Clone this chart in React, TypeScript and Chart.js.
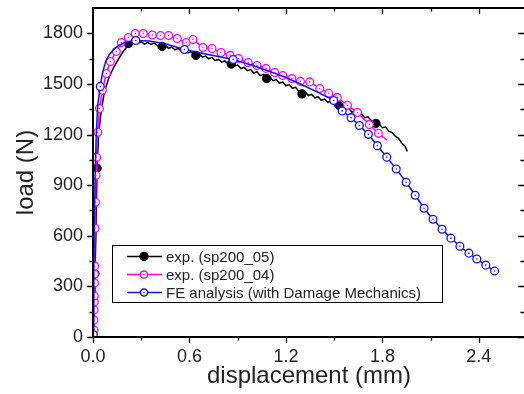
import { useEffect, useRef } from "react";
import { Chart, registerables } from "chart.js";

Chart.register(...registerables);

// exp. (sp200_05) – noisy curve
const sp05Disp = [0, 0.004, 0.008, 0.012, 0.018, 0.025, 0.035, 0.05, 0.07, 0.1, 0.13, 0.16, 0.19, 0.22, 0.24, 0.26, 0.28, 0.3, 0.32, 0.34, 0.36, 0.38, 0.4, 0.43, 0.45, 0.47, 0.49, 0.51, 0.53, 0.55, 0.57, 0.59, 0.61, 0.64, 0.66, 0.68, 0.7, 0.72, 0.74, 0.76, 0.78, 0.8, 0.82, 0.84, 0.86, 0.88, 0.9, 0.92, 0.94, 0.96, 0.98, 1.0, 1.02, 1.04, 1.06, 1.08, 1.1, 1.12, 1.14, 1.16, 1.18, 1.2, 1.22, 1.24, 1.26, 1.28, 1.3, 1.32, 1.34, 1.36, 1.38, 1.4, 1.42, 1.44, 1.46, 1.48, 1.5, 1.53, 1.55, 1.57, 1.59, 1.61, 1.63, 1.65, 1.67, 1.69, 1.71, 1.73, 1.76, 1.78, 1.8, 1.82, 1.84, 1.86, 1.88, 1.9, 1.92, 1.94, 1.955];
const sp05Load = [0, 120, 250, 375, 600, 1000, 1200, 1330, 1450, 1540, 1600, 1650, 1695, 1730, 1735, 1748, 1740, 1750, 1736, 1746, 1734, 1742, 1728, 1722, 1730, 1711, 1718, 1702, 1710, 1694, 1700, 1684, 1690, 1669, 1678, 1659, 1665, 1649, 1656, 1639, 1645, 1629, 1636, 1619, 1615, 1606, 1612, 1591, 1598, 1579, 1585, 1564, 1572, 1549, 1556, 1532, 1540, 1519, 1526, 1504, 1512, 1489, 1496, 1474, 1480, 1457, 1441, 1452, 1431, 1438, 1417, 1424, 1403, 1410, 1391, 1398, 1380, 1373, 1366, 1351, 1356, 1333, 1340, 1317, 1322, 1299, 1306, 1284, 1266, 1262, 1240, 1244, 1220, 1212, 1190, 1178, 1150, 1132, 1100];
const sp05MarkDisp = [0.012, 0.025, 0.22, 0.43, 0.64, 0.86, 1.08, 1.3, 1.53, 1.76];
const sp05MarkLoad = [375, 1000, 1740, 1722, 1669, 1618, 1532, 1441, 1373, 1266];

// exp. (sp200_04)
const sp04Disp = [0.006, 0.006, 0.007, 0.008, 0.008, 0.009, 0.009, 0.01, 0.013, 0.016, 0.019, 0.022, 0.03, 0.04, 0.058, 0.083, 0.108, 0.145, 0.176, 0.22, 0.263, 0.313, 0.369, 0.42, 0.47, 0.524, 0.58, 0.622, 0.684, 0.74, 0.796, 0.853, 0.905, 0.965, 1.02, 1.076, 1.13, 1.18, 1.237, 1.29, 1.348, 1.41, 1.466, 1.52, 1.583, 1.645, 1.719, 1.775, 1.83];
const sp04Load = [41, 100, 160, 207, 243, 320, 373, 420, 645, 799, 958, 1065, 1213, 1355, 1462, 1562, 1633, 1692, 1745, 1775, 1799, 1799, 1790, 1787, 1787, 1769, 1745, 1763, 1716, 1710, 1686, 1669, 1651, 1627, 1609, 1592, 1568, 1550, 1532, 1515, 1512, 1473, 1444, 1420, 1373, 1331, 1260, 1207, 1166];
const sp04Mark = [1, 1, 1, 1, 1, 1, 1, 1, 1, 1, 1, 1, 1, 1, 1, 1, 1, 1, 1, 1, 1, 1, 1, 1, 1, 1, 1, 1, 1, 1, 1, 1, 1, 1, 1, 1, 1, 1, 1, 1, 1, 1, 1, 1, 1, 1, 1, 1, 0];

// FE analysis (with Damage Mechanics)
const feDisp = [0.002, 0.005, 0.012, 0.02, 0.03, 0.045, 0.06, 0.08, 0.1, 0.13, 0.16, 0.2, 0.266, 0.35, 0.45, 0.569, 0.7, 0.872, 1.0, 1.1, 1.2, 1.3, 1.4, 1.497, 1.55, 1.605, 1.657, 1.713, 1.769, 1.827, 1.886, 1.948, 2.004, 2.059, 2.115, 2.171, 2.226, 2.282, 2.338, 2.387, 2.443, 2.498];
const feLoad = [15, 450, 900, 1200, 1380, 1485, 1570, 1635, 1672, 1705, 1728, 1745, 1757, 1755, 1738, 1704, 1678, 1645, 1608, 1574, 1538, 1495, 1450, 1402, 1340, 1300, 1254, 1201, 1134, 1066, 996, 917, 840, 763, 698, 639, 586, 538, 497, 462, 426, 391];
const feMark = [1, 0, 0, 0, 0, 1, 0, 0, 0, 0, 0, 0, 1, 0, 0, 1, 0, 1, 0, 0, 0, 0, 0, 1, 1, 1, 1, 1, 1, 1, 1, 1, 1, 1, 1, 1, 1, 1, 1, 1, 1, 1];

const xTickValues = [0, 0.3, 0.6, 0.9, 1.2, 1.5, 1.8, 2.1, 2.4];
const xTickLabels = ["0.0", "", "0.6", "", "1.2", "", "1.8", "", "2.4"];
const yTickValues = [0, 150, 300, 450, 600, 750, 900, 1050, 1200, 1350, 1500, 1650, 1800];
const yTickLabels = ["0", "", "300", "", "600", "", "900", "", "1200", "", "1500", "", "1800"];

const seriesLabels = ["exp. (sp200_05)", "exp. (sp200_04)", "FE analysis (with Damage Mechanics)"];
const BLACK = "#000000";
const PINK = "#ff00ff";
const BLUE = "#1010ff";
const FONT = "'Liberation Sans', Arial, Helvetica, sans-serif";
const TEXT = "#222222";

const pts = (xs: number[], ys: number[]) => xs.map((x, i) => ({ x, y: ys[i] }));

const framePlugin = {
  id: "frame",
  afterDraw(chart: any) {
    const { ctx, chartArea } = chart;
    const { left, right, top, bottom } = chartArea;
    const xs = chart.scales.x;
    const ys = chart.scales.y;
    ctx.save();
    ctx.strokeStyle = "#000";
    ctx.lineWidth = 2;
    ctx.strokeRect(left, top, right - left, bottom - top);
    ctx.lineWidth = 1.3;
    ctx.beginPath();
    xs.ticks.forEach((t: any, i: number) => {
      const px = Math.round(xs.getPixelForValue(t.value)) + 0.5;
      const len = xTickLabels[i] ? 6 : 3.5;
      ctx.moveTo(px, bottom);
      ctx.lineTo(px, bottom + len);
      ctx.moveTo(px, top);
      ctx.lineTo(px, top + len);
    });
    ys.ticks.forEach((t: any, i: number) => {
      const py = Math.round(ys.getPixelForValue(t.value)) + 0.5;
      const len = yTickLabels[i] ? 6 : 3.5;
      ctx.moveTo(left - len, py);
      ctx.lineTo(left, py);
      ctx.moveTo(right - len - 1, py);
      ctx.lineTo(right, py);
    });
    ctx.stroke();
    ctx.restore();
  },
};

const centerDotPlugin = {
  id: "centerDot",
  afterDatasetsDraw(chart: any) {
    const { ctx } = chart;
    chart.data.datasets.forEach((ds: any, di: number) => {
      if (!ds.centerDot) return;
      const meta = chart.getDatasetMeta(di);
      ctx.save();
      ctx.fillStyle = ds.borderColor;
      meta.data.forEach((el: any, i: number) => {
        const r = Array.isArray(ds.pointRadius) ? ds.pointRadius[i] : ds.pointRadius;
        if (!r) return;
        ctx.beginPath();
        ctx.arc(el.x, el.y, 0.8, 0, Math.PI * 2);
        ctx.fill();
      });
      ctx.restore();
    });
  },
};

const legendPlugin = {
  id: "customLegend",
  afterDraw(chart: any) {
    const { ctx } = chart;
    const bx = 112, by = 245, bw = 330, bh = 57;
    ctx.save();
    ctx.fillStyle = "#fff";
    ctx.fillRect(bx, by, bw, bh);
    ctx.strokeStyle = "#000";
    ctx.lineWidth = 1;
    ctx.strokeRect(bx + 0.5, by + 0.5, bw, bh);
    const rows = [
      { color: BLACK, filled: true },
      { color: PINK, filled: false },
      { color: BLUE, filled: false },
    ];
    ctx.font = `15px ${FONT}`;
    ctx.textBaseline = "middle";
    rows.forEach((r, i) => {
      const y = 256.5 + i * 18;
      ctx.strokeStyle = r.color;
      ctx.lineWidth = 1.5;
      ctx.beginPath();
      ctx.moveTo(127, y);
      ctx.lineTo(162, y);
      ctx.stroke();
      ctx.beginPath();
      ctx.arc(144, y, r.filled ? 4 : 3.6, 0, Math.PI * 2);
      ctx.fillStyle = r.filled ? r.color : "#fff";
      ctx.fill();
      ctx.stroke();
      if (!r.filled) {
        ctx.beginPath();
        ctx.fillStyle = r.color;
        ctx.arc(144, y, 0.8, 0, Math.PI * 2);
        ctx.fill();
      }
      ctx.fillStyle = TEXT;
      ctx.fillText(seriesLabels[i], 166, y + 1);
    });
    ctx.restore();
  },
};

export default function App() {
  const ref = useRef<HTMLCanvasElement | null>(null);
  useEffect(() => {
    document.body.style.margin = "0";
    const canvas = ref.current;
    if (!canvas) return;
    Chart.defaults.font.family = FONT;
    const chart = new Chart(canvas, {
      type: "line",
      data: {
        datasets: [
          {
            label: seriesLabels[0],
            data: pts(sp05Disp, sp05Load),
            borderColor: BLACK,
            borderWidth: 1.5,
            pointRadius: 0,
            fill: false,
            order: 6,
          },
          {
            label: seriesLabels[0] + " markers",
            data: pts(sp05MarkDisp, sp05MarkLoad),
            showLine: false,
            borderColor: BLACK,
            backgroundColor: BLACK,
            pointBackgroundColor: BLACK,
            pointRadius: 4.2,
            pointBorderWidth: 1,
            order: 5,
          },
          {
            label: seriesLabels[1],
            data: pts(sp04Disp, sp04Load),
            borderColor: PINK,
            borderWidth: 1.5,
            pointRadius: sp04Mark.map((m) => (m ? 3.9 : 0)),
            pointBorderColor: PINK,
            pointBackgroundColor: "#fff",
            pointBorderWidth: 1.3,
            fill: false,
            order: 4,
            centerDot: true,
          } as any,
          {
            label: seriesLabels[2],
            data: pts(feDisp, feLoad),
            borderColor: BLUE,
            borderWidth: 1.5,
            pointRadius: feMark.map((m) => (m ? 3.9 : 0)),
            pointBorderColor: BLUE,
            pointBackgroundColor: "#fff",
            pointBorderWidth: 1.3,
            fill: false,
            order: 3,
            centerDot: true,
          } as any,
        ],
      },
      options: {
        animation: false,
        responsive: false,
        events: [],
        layout: { autoPadding: false, padding: { top: 8, right: 1, left: 0, bottom: 0 } },
        plugins: {
          legend: { display: false },
          tooltip: { enabled: false },
        },
        scales: {
          x: {
            type: "linear",
            position: "bottom",
            min: 0,
            max: 2.687,
            afterBuildTicks: (s: any) => {
              s.ticks = xTickValues.map((v) => ({ value: v }));
            },
            afterFit: (s: any) => {
              s.height = 57;
              s.paddingLeft = 0;
              s.paddingRight = 0;
              s.paddingTop = 0;
              s.paddingBottom = 0;
            },
            grid: { display: false, drawTicks: false },
            border: { display: false },
            ticks: {
              autoSkip: false,
              maxRotation: 0,
              padding: 9,
              color: TEXT,
              font: { size: 18 },
              callback: (_v: any, i: number) => xTickLabels[i],
            },
            title: {
              display: true,
              text: "displacement (mm)",
              color: TEXT,
              font: { size: 24 },
              padding: { top: 0, bottom: 3 },
            },
          },
          y: {
            type: "linear",
            position: "left",
            min: 0,
            max: 1950,
            afterBuildTicks: (s: any) => {
              s.ticks = yTickValues.map((v) => ({ value: v }));
            },
            afterFit: (s: any) => {
              s.width = 93;
              s.paddingLeft = 0;
              s.paddingRight = 0;
              s.paddingTop = 0;
              s.paddingBottom = 0;
            },
            grid: { display: false, drawTicks: false },
            border: { display: false },
            ticks: {
              autoSkip: false,
              padding: 10,
              color: TEXT,
              font: { size: 18 },
              callback: (_v: any, i: number) => yTickLabels[i],
            },
            title: {
              display: true,
              text: "load (N)",
              color: TEXT,
              font: { size: 24 },
              padding: { top: 12, bottom: 0 },
            },
          },
        },
      } as any,
      plugins: [centerDotPlugin, framePlugin, legendPlugin],
    });
    return () => chart.destroy();
  }, []);
  return (
    <div style={{ width: 524, height: 394, overflow: "hidden" }}>
      <canvas ref={ref} width={526} height={394} style={{ display: "block" }} />
    </div>
  );
}
